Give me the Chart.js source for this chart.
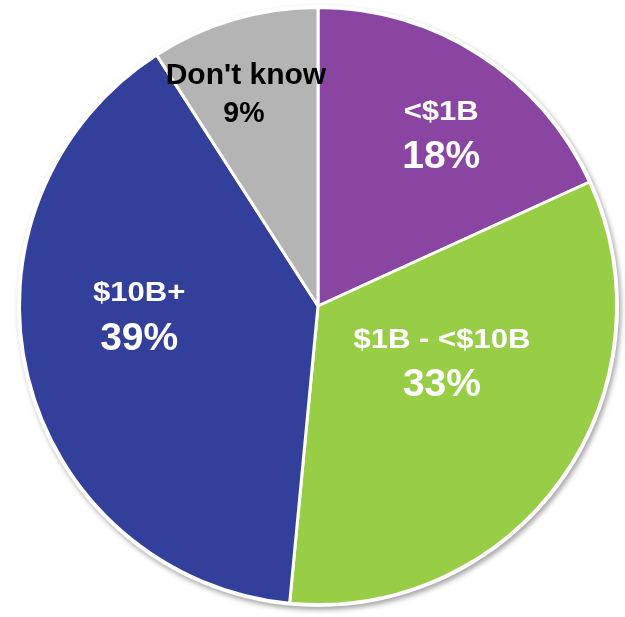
<!DOCTYPE html>
<html>
<head>
<meta charset="utf-8">
<script src="https://cdn.jsdelivr.net/npm/chart.js"></script>
<style>
  html, body { margin: 0; padding: 0; background: #fff; }
  #wrap { width: 625px; height: 617px; }
</style>
</head>
<body>
<div id="wrap"><canvas id="pieChart" width="625" height="617"></canvas></div>
<script>
var categories = ['<$1B', '$1B - <$10B', '$10B+', "Don't know"];
var shares = [18, 33, 39, 9];
var sliceColors = ['#8a45a3', '#98ce45', '#32409b', '#b4b4b4'];
var labelColors = ['#ffffff', '#ffffff', '#ffffff', '#000000'];

// label placement per slice: [fraction of radius, nudge from mid-angle in degrees]
var labelPlace = [[0.707, 3], [0.456, -11], [0.60, 10.5], [0.747, -2.5]];

// white rim + soft drop shadow under the pie
var pieBacking = {
  id: 'pieBacking',
  beforeDatasetsDraw: function(chart) {
    var arc = chart.getDatasetMeta(0).data[0];
    if (!arc) return;
    var ctx = chart.ctx;
    ctx.save();
    ctx.shadowColor = 'rgba(0,0,0,0.35)';
    ctx.shadowBlur = 5;
    ctx.shadowOffsetX = 2;
    ctx.shadowOffsetY = 3;
    ctx.fillStyle = '#ffffff';
    ctx.beginPath();
    ctx.arc(arc.x, arc.y, arc.outerRadius + 2.5, 0, Math.PI * 2);
    ctx.fill();
    ctx.restore();
  }
};

function drawText(ctx, text, x, y, font, color, stretch) {
  ctx.save();
  ctx.translate(x, y);
  ctx.scale(stretch, 1);
  ctx.font = font;
  ctx.fillStyle = color;
  ctx.textAlign = 'center';
  ctx.textBaseline = 'middle';
  ctx.fillText(text, 0, 0);
  ctx.restore();
}

var sliceLabels = {
  id: 'sliceLabels',
  afterDatasetsDraw: function(chart) {
    var ctx = chart.ctx;
    chart.getDatasetMeta(0).data.forEach(function(arc, i) {
      var mid = (arc.startAngle + arc.endAngle) / 2 + labelPlace[i][1] * Math.PI / 180;
      var r = arc.outerRadius * labelPlace[i][0];
      var cx = arc.x + Math.cos(mid) * r;
      var cy = arc.y + Math.sin(mid) * r;
      var pct = shares[i] + '%';
      if (labelColors[i] === '#000000') {
        drawText(ctx, categories[i], cx, cy - 19, 'bold 30px "Liberation Sans", Arial, sans-serif', labelColors[i], 1.0);
        drawText(ctx, pct, cx - 2, cy + 19, 'bold 30px "Liberation Sans", Arial, sans-serif', labelColors[i], 0.95);
      } else {
        drawText(ctx, categories[i], cx, cy - 22, 'bold 27px "Liberation Sans", Arial, sans-serif', labelColors[i], 1.15);
        drawText(ctx, pct, cx, cy + 23, 'bold 39px "Liberation Sans", Arial, sans-serif', labelColors[i], 1.0);
      }
    });
  }
};

var ctx = document.getElementById('pieChart').getContext('2d');
var pieChart = new Chart(ctx, {
  type: 'pie',
  data: {
    labels: categories,
    datasets: [{
      data: shares,
      backgroundColor: sliceColors,
      borderColor: '#ffffff',
      borderWidth: 3
    }]
  },
  options: {
    responsive: false,
    animation: false,
    layout: { padding: { left: 18, right: 7, top: 6, bottom: 11 } },
    plugins: {
      legend: { display: false },
      tooltip: { enabled: false }
    }
  },
  plugins: [pieBacking, sliceLabels]
});
</script>
</body>
</html>
